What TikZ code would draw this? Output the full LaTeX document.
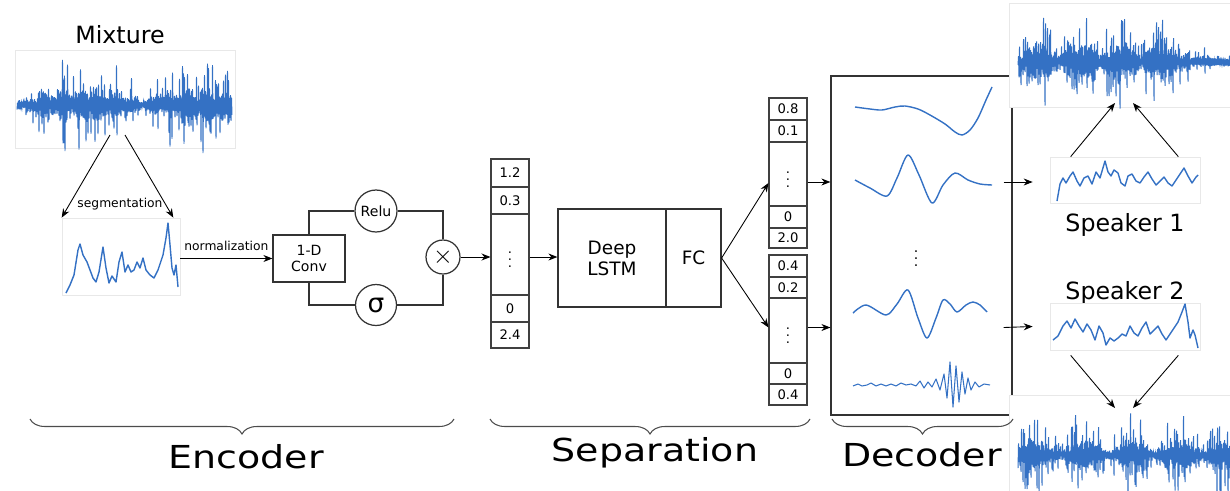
\documentclass[tikz,border=0pt]{standalone}
\usepackage{fontspec}
\setmainfont{DejaVu Sans}
\usepackage{tikz}
\usetikzlibrary{calc}
\usetikzlibrary{arrows.meta}
\usetikzlibrary{decorations.pathreplacing}
\definecolor{waveblue}{RGB}{52,113,196}
\definecolor{framegray}{RGB}{232,232,232}

\begin{document}
\begin{tikzpicture}[x=0.02cm,y=-0.02cm,
    arr/.style={-{Stealth[length=1.8mm,width=1.4mm]},line width=0.5pt},
    box/.style={draw=black!80,line width=0.7pt,align=center,inner sep=0pt},
    cell/.style={draw=black!75,line width=0.6pt,minimum width=0.76cm,inner sep=0pt,font=\fontsize{7.5}{8}\selectfont},
    imgbox/.style={draw=framegray,line width=0.4pt,fill=white,inner sep=0pt},
    wave/.style={color=waveblue,line width=0.8pt,line join=round},
    bigwave/.style={color=waveblue,line width=0.55pt},
    brc/.style={decorate,decoration={brace,mirror,amplitude=0.3cm},draw=black!70,line width=0.6pt},
    small/.style={font=\fontsize{7}{8}\selectfont},
    big/.style={font=\fontsize{18}{20}\selectfont}]
        \useasboundingbox (0,0) rectangle (1230,490);
        \pgfmathsetseed{11}
        % mixture and its segment
        \node[font=\fontsize{13.5}{15}\selectfont] (mixlbl) at (120,35) {Mixture};
        \node[imgbox,minimum width=4.4cm,minimum height=1.96cm] (mix) at (125,99) {};
        \draw[bigwave] plot[variable=\t,domain=0:430,samples=431] ({17+\t/2},{105+(1-2*mod(round(\t),2))*(0.04+0.96*pow(abs(sin((\t/2-126)*1.5)),0.5))*(0.6+0.4*abs(sin(\t*5)))*(6+12*rnd+36*pow(rnd,4))});
        \node[imgbox,minimum width=2.36cm,minimum height=1.54cm] (seg) at (121,256.5) {};
        \draw[wave] plot coordinates {(66,293) (70,285) (74,275) (78,250) (80,244) (83,255) (87,262) (90,270) (93,278) (96,282) (99,272) (103,247) (106,268) (109,283) (112,276) (116,282) (119,262) (122,252) (125,272) (128,265) (131,272) (134,270) (137,262) (140,268) (143,258) (146,270) (150,275) (154,278) (158,270) (163,255) (166,238) (168,223) (170,245) (172,268) (174,275) (176,265) (178,287)};
        \coordinate (cutL) at (110,135);
        \coordinate (cutR) at (125,135);
        \draw[arr] (cutL) -- (seg.north west);
        \draw[arr] (cutR) -- ($(seg.north east)+(-7,0)$);
        \node[small] (seglbl) at (120,204) {segmentation};
        % encoder
        \node[box,minimum width=1.44cm,minimum height=0.94cm,font=\fontsize{8}{9.5}\selectfont] (conv) at (309,258.5) {1-D\\Conv};
        \node[box,circle,minimum size=0.84cm,font=\fontsize{8}{9}\selectfont] (relu) at (376,211) {Relu};
        \node[box,circle,minimum size=0.82cm,font=\fontsize{15}{15}\selectfont] (sig) at (376,305) {σ};
        \node[box,circle,minimum size=0.68cm,font=\fontsize{15}{15}\selectfont] (mult) at (443,257) {$\times$};
        \draw[arr] (seg.east |- conv.west) -- node[above=1pt,small] {normalization} (conv.west);
        \draw[line width=0.7pt,black!80] (conv.north) |- (relu.west);
        \draw[line width=0.7pt,black!80] (relu.east) -| (mult.north);
        \draw[line width=0.7pt,black!80] (conv.south) |- (sig.west);
        \draw[line width=0.7pt,black!80] (sig.east) -| (mult.south);
        % encoded vector
        \node[cell,minimum height=0.56cm] (v1a) at (510,173) {1.2};
        \node[cell,minimum height=0.54cm] (v1b) at (510,200.5) {0.3};
        \node[cell,minimum height=1.62cm] (v1c) at (510,254.5) {$\vdots$};
        \node[cell,minimum height=0.54cm] (v1d) at (510,308.5) {0};
        \node[cell,minimum height=0.52cm] (v1e) at (510,335) {2.4};
        \draw[arr] (mult.east) -- (mult.east -| v1c.west);
        % separation
        \node[box,minimum width=2.16cm,minimum height=1.96cm,font=\fontsize{10.5}{12}\selectfont] (lstm) at (612,258) {Deep\\LSTM};
        \node[box,minimum width=1.1cm,minimum height=1.96cm,font=\fontsize{10.5}{12}\selectfont] (fc) at (693.5,258) {FC};
        \draw[arr] (mult.east -| v1c.east) -- (mult.east -| lstm.west);
        \node[cell,minimum height=0.44cm] (v2a) at (788,109) {0.8};
        \node[cell,minimum height=0.44cm] (v2b) at (788,131) {0.1};
        \node[cell,minimum height=1.28cm] (v2c) at (788,174) {$\vdots$};
        \node[cell,minimum height=0.44cm] (v2d) at (788,217) {0};
        \node[cell,minimum height=0.40cm] (v2e) at (788,238) {2.0};
        \node[cell,minimum height=0.44cm] (v3a) at (788,266) {0.4};
        \node[cell,minimum height=0.42cm] (v3b) at (788,287.5) {0.2};
        \node[cell,minimum height=1.30cm] (v3c) at (788,330.5) {$\vdots$};
        \node[cell,minimum height=0.42cm] (v3d) at (788,373.5) {0};
        \node[cell,minimum height=0.42cm] (v3e) at (788,394.5) {0.4};
        \draw[arr] (fc.east) -- ($(v2c.west)+(0,9)$);
        \draw[arr] (fc.east) -- ($(v3c.west)+(0,-3)$);
        % decoder
        \node[box,minimum width=3.62cm,minimum height=6.78cm] (dec) at (921.5,245.5) {};
        \coordinate (o2) at ($(v2c.east)+(0,8)$);
        \coordinate (o3) at ($(v3c.east)+(0,-3)$);
        \draw[arr] (o2) -- (dec.west |- o2);
        \draw[arr] (o3) -- (dec.west |- o3);
        \draw[wave] plot[smooth] coordinates {(855,107) (870,109) (882,110) (895,107) (905,106) (918,109) (930,115) (945,124) (955,132) (962,135) (970,130) (978,118) (986,100) (992,87)};
        \draw[wave] plot[smooth] coordinates {(855,180) (870,188) (887,196) (897,178) (908,155) (919,175) (932,203) (943,185) (955,173) (968,180) (980,184) (992,185)};
        \draw[wave] plot[smooth] coordinates {(853,313) (866,305) (886,315) (897,304) (908,290) (918,318) (927,338) (936,318) (943,300) (950,304) (957,312) (966,305) (973,302) (980,305) (987,312)};
        \draw[wave,line width=0.6pt] plot coordinates {(853,386) (858,384) (862,386) (867,385) (871,383) (876,386) (881,384) (886,386) (891,384) (896,386) (901,383) (906,385) (911,384) (916,386) (920,381) (924,388) (928,382) (932,387) (936,379) (940,390) (944,374) (947,398) (950,362) (953,407) (956,366) (959,402) (962,372) (965,394) (968,378) (971,390) (975,382) (979,387) (984,384) (990,385)};
        \node[font=\fontsize{8}{8}\selectfont] (decdots) at (916,253) {$\vdots$};
        % speakers
        \node[imgbox,minimum width=3cm,minimum height=0.92cm] (spk1) at (1125,180) {};
        \draw[wave] plot coordinates {(1057,201) (1060,184) (1063,178) (1066,183) (1070,176) (1073,172) (1077,181) (1080,186) (1084,178) (1088,176) (1092,184) (1096,172) (1100,178) (1105,161) (1108,172) (1111,176) (1114,170) (1118,173) (1121,183) (1125,186) (1128,176) (1132,174) (1136,181) (1140,183) (1144,177) (1148,172) (1152,179) (1156,185) (1160,181) (1164,177) (1168,183) (1172,186) (1176,180) (1180,174) (1184,168) (1188,176) (1192,183) (1196,177) (1198,175)};
        \node[font=\fontsize{13.5}{15}\selectfont] (spk1lbl) at (1125,225) {Speaker 1};
        \node[font=\fontsize{13.5}{15}\selectfont] (spk2lbl) at (1125,293) {Speaker 2};
        \node[imgbox,minimum width=3cm,minimum height=0.94cm] (spk2) at (1125,326.5) {};
        \draw[wave] plot coordinates {(1053,340) (1058,336) (1063,326) (1067,321) (1071,328) (1075,319) (1079,326) (1083,332) (1087,324) (1091,330) (1095,340) (1099,326) (1103,333) (1106,345) (1110,338) (1114,341) (1118,338) (1122,334) (1126,336) (1130,326) (1134,333) (1138,336) (1142,328) (1146,322) (1150,334) (1154,330) (1158,326) (1162,334) (1166,340) (1170,334) (1174,328) (1178,322) (1182,312) (1185,304) (1188,322) (1190,338) (1193,330) (1195,335) (1198,348)};
        \draw[arr] (dec.east |- o2) ++(-9,0) coordinate (d1) -- ($(spk1.west)+(-17,2)$);
        \draw[arr] (dec.east |- o3) ++(-9,0) coordinate (d2) -- ($(spk2.west)+(-17,0)$);
        % separated outputs
        \node[imgbox,minimum width=4.46cm,minimum height=2.08cm] (out1) at (1121,55) {};
        \draw[bigwave] plot[variable=\t,domain=0:424,samples=425] ({1018+\t/2},{62+(1-2*mod(round(\t),2))*(\t<345 ? 1 : 0.3)*(0.35+0.65*abs(sin(\t*2.2)))*(6+12*rnd+38*pow(rnd,4))});
        \node[imgbox,minimum width=4.46cm,minimum height=2cm] (out2) at (1121,445) {};
        \draw[bigwave] plot[variable=\t,domain=0:424,samples=425] ({1018+\t/2},{455+(1-2*mod(round(\t),2))*(0.2+0.8*abs(sin(\t*1.9+20)))*(5+10*rnd+38*pow(rnd,4))});
        \coordinate (in1L) at (1115,103);
        \coordinate (in1R) at (1133,103);
        \coordinate (in2L) at (1115,408);
        \coordinate (in2R) at (1133,408);
        \draw[arr] ($(spk1.north west)+(21,0)$) -- (in1L);
        \draw[arr] ($(spk1.north east)+(-22,0)$) -- (in1R);
        \draw[arr] ($(spk2.south west)+(21,5)$) -- (in2L);
        \draw[arr] ($(spk2.south east)+(-22,5)$) -- (in2R);
        % braces
        \draw[brc] (30,419) -- (454,419);
        \draw[brc] (490,419) -- (810,419);
        \draw[brc] (832,419) -- (1013,419);
        \node[big] (enclbl) at (246,457) {\scalebox{1.2}[1]{Encoder}};
        \node[big] (seplbl) at (655,453) {\scalebox{1.2}[1]{Separation}};
        \node[big] (declbl) at (922,455) {\scalebox{1.2}[1]{Decoder}};
\end{tikzpicture}
\end{document}
